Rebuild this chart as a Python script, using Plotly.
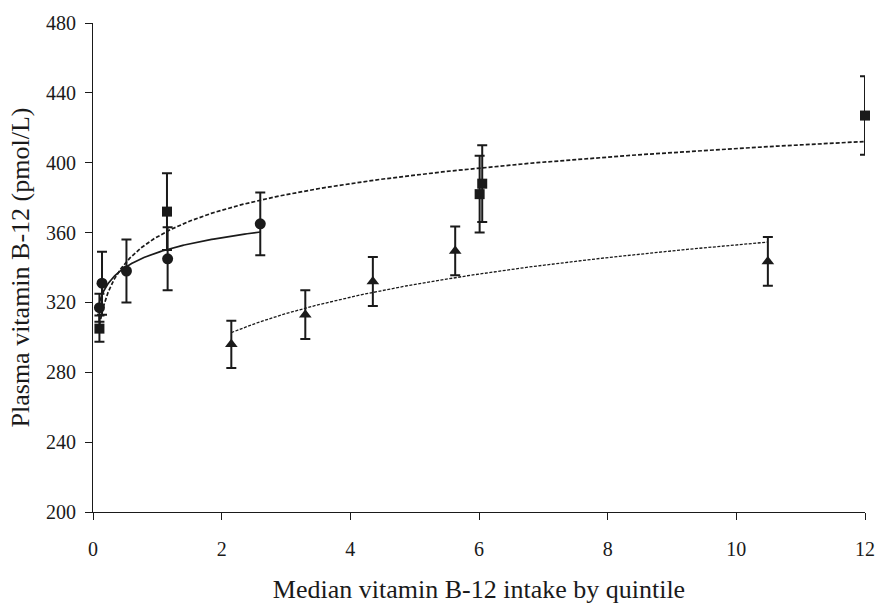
import numpy as np
import plotly.graph_objects as go

# Median intake per quintile (x), mean plasma B-12 (y) and SE for three groups
circle_x = [0.10, 0.14, 0.52, 1.16, 2.60]
circle_y = [317, 331, 338, 345, 365]
circle_se = [8, 18, 18, 18, 18]

square_x = [0.10, 1.15, 6.01, 6.05, 12.0]
square_y = [305, 372, 382, 388, 427]
square_se = [7.5, 22, 22, 22, 22.5]

tri_x = [2.15, 3.30, 4.35, 5.63, 10.49]
tri_y = [296, 313, 332, 349.5, 343.5]
tri_se = [13.5, 14, 14, 14, 14]

x_ticks = [0, 2, 4, 6, 8, 10, 12]
y_ticks = [200, 240, 280, 320, 360, 400, 440, 480]

FONT = "Liberation Serif, Times New Roman, serif"


def log_fit(xs, ys):
    """Logarithmic trend line y = a + b*ln(x) over the data's x span."""
    xs = np.asarray(xs, float)
    ys = np.asarray(ys, float)
    b, a = np.polyfit(np.log(xs), ys, 1)
    xx = np.geomspace(xs.min(), xs.max(), 200)
    return xx, a + b * np.log(xx)


fig = go.Figure()

# trend lines
for xs, ys, dash, w in [
    (circle_x, circle_y, "solid", 1.7),
    (square_x, square_y, "4px,2px", 1.7),
    (tri_x, tri_y, "3px,1.5px", 1.3),
]:
    fx, fy = log_fit(xs, ys)
    fig.add_trace(go.Scatter(x=fx, y=fy, mode="lines",
                             line=dict(color="#1a1a1a", width=w, dash=dash),
                             hoverinfo="skip", showlegend=False))

# data points with error bars
for xs, ys, se, sym, size in [
    (circle_x, circle_y, circle_se, "circle", 11),
    (square_x, square_y, square_se, "square", 10),
    (tri_x, tri_y, tri_se, "triangle-up", 11),
]:
    fig.add_trace(go.Scatter(
        x=xs, y=ys, mode="markers", cliponaxis=False,
        marker=dict(symbol=sym, size=size, color="#1a1a1a"),
        error_y=dict(type="data", array=se, visible=True,
                     color="#1a1a1a", thickness=2, width=5),
        showlegend=False))

fig.update_layout(
    width=887, height=610,
    margin=dict(l=93, r=13, t=18, b=94),
    paper_bgcolor="white", plot_bgcolor="white",
    font=dict(family=FONT, size=20, color="#1a1a1a"),
    xaxis=dict(
        range=[0, 12], tickvals=x_ticks, ticks="outside", ticklen=7,
        tickwidth=1.2, tickcolor="#1a1a1a", showline=True, linecolor="#1a1a1a",
        linewidth=1.2, showgrid=False, zeroline=False, ticklabelstandoff=12,
        title=dict(text="Median vitamin B-12 intake by quintile",
                   font=dict(family=FONT, size=26), standoff=20),
    ),
    yaxis=dict(
        range=[200, 480], tickvals=y_ticks, ticks="outside", ticklen=7,
        tickwidth=1.2, tickcolor="#1a1a1a", showline=True, linecolor="#1a1a1a",
        linewidth=1.2, showgrid=False, zeroline=False, ticklabelstandoff=5,
        title=dict(text="Plasma vitamin B-12 (pmol/L)",
                   font=dict(family=FONT, size=26), standoff=8),
    ),
)

fig.write_html("out.html")
